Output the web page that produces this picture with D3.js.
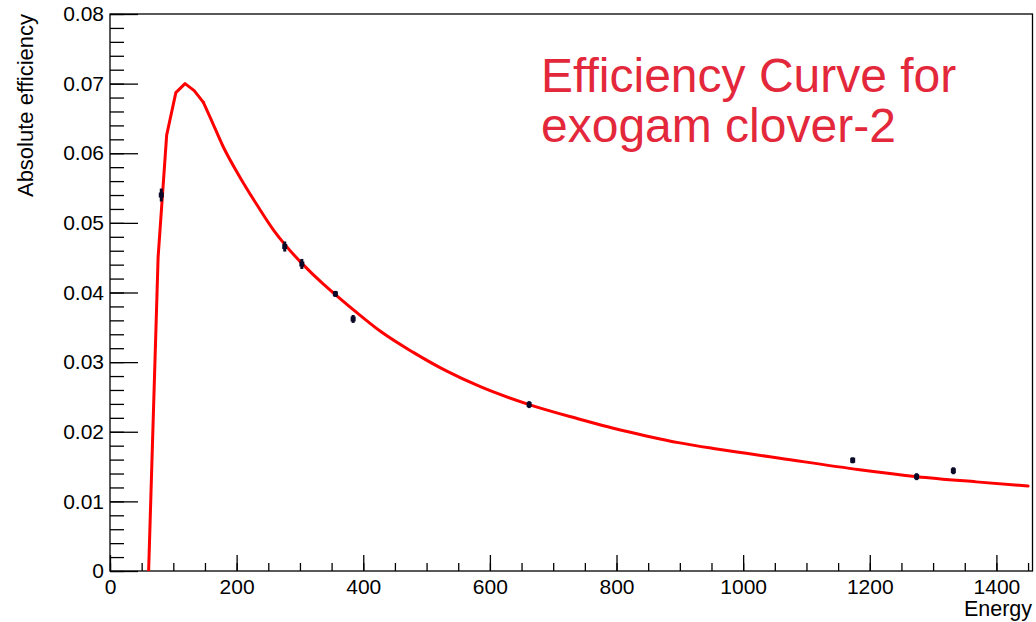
<!DOCTYPE html>
<html>
<head>
<meta charset="utf-8">
<script src="https://cdn.jsdelivr.net/npm/d3@7"></script>
<style>
  body { margin: 0; background: #fff; }
  text { font-family: "Liberation Sans", Arial, sans-serif; }
</style>
</head>
<body>
<div id="chart"></div>
<script>
// measured points (keV, absolute efficiency, error)
const energies = [81, 276, 303, 356, 384, 662, 1173, 1274, 1332]
const efficiencies = [0.0540, 0.0466, 0.0441, 0.0398, 0.0362, 0.0239, 0.0159, 0.01355, 0.0144]
const errors = [0.00093, 0.00072, 0.00072, 0.00043, 0.00057, 0.0005, 0.00043, 0.0005, 0.0005]

// fitted curve
const fitEnergy = [61, 76, 89.5, 104, 118.5, 133, 147.5, 158, 179, 205, 232, 258, 277, 305, 337, 356, 390, 426, 479, 532, 584, 662, 742, 795, 847, 900, 953, 1005, 1058, 1184, 1275, 1368, 1450]
const fitEff = [0, 0.0451, 0.0626, 0.0687, 0.0700, 0.0690, 0.0673, 0.0652, 0.0609, 0.0566, 0.0526, 0.0490, 0.0468, 0.0440, 0.0412, 0.0397, 0.0371, 0.0345, 0.0314, 0.0287, 0.0265, 0.0239, 0.0218, 0.0205, 0.0194, 0.0184, 0.0176, 0.0169, 0.0162, 0.01455, 0.01355, 0.0128, 0.0122]
// the peak is drawn with straight segments, the tail smoothed
const peakEnd = 6

const xTicks = [0, 200, 400, 600, 800, 1000, 1200, 1400]
const xTickLabels = ['0', '200', '400', '600', '800', '1000', '1200', '1400']
const yTicks = [0, 0.01, 0.02, 0.03, 0.04, 0.05, 0.06, 0.07, 0.08]
const yTickLabels = ['0', '0.01', '0.02', '0.03', '0.04', '0.05', '0.06', '0.07', '0.08']

const width = 1036
const height = 622
const frameLeft = 110, frameRight = 1032.5, frameTop = 14, frameBottom = 571

const svg = d3.select('#chart')
  .append('svg')
  .attr('width', width)
  .attr('height', height)

svg.append('rect').attr('width', width).attr('height', height).attr('fill', '#fff')

const xScale = d3.scaleLinear().domain([0, 1457]).range([frameLeft, frameRight])
const yScale = d3.scaleLinear().domain([0, 0.08]).range([frameBottom, frameTop])

svg.append('defs').append('clipPath').attr('id', 'frame')
  .append('rect')
  .attr('x', frameLeft).attr('y', frameTop)
  .attr('width', frameRight - frameLeft).attr('height', frameBottom - frameTop)

//Minor ticks
svg.append('g')
   .attr('transform', `translate(0, ${frameBottom})`)
   .call(d3.axisBottom(xScale).tickValues(d3.range(0, 1451, 50)).tickSize(-8).tickFormat(''))
svg.append('g')
   .attr('transform', `translate(${frameLeft}, 0)`)
   .call(d3.axisLeft(yScale).tickValues(d3.range(0, 0.0801, 0.002)).tickSize(-14).tickFormat(''))

//Major ticks with labels
svg.append('g')
   .attr('class', 'x-axis')
   .attr('transform', `translate(0, ${frameBottom})`)
   .call(d3.axisBottom(xScale).tickValues(xTicks).tickSize(-16).tickPadding(8)
     .tickFormat((d, i) => xTickLabels[i]))
svg.append('g')
   .attr('class', 'y-axis')
   .attr('transform', `translate(${frameLeft}, 0)`)
   .call(d3.axisLeft(yScale).tickValues(yTicks).tickSize(-28).tickPadding(6)
     .tickFormat((d, i) => yTickLabels[i]))

svg.selectAll('.domain').remove()
svg.selectAll('.tick line').attr('stroke', '#000').attr('stroke-width', 1.3)
svg.selectAll('.tick text').attr('fill', '#000').style('font-size', '21px')

//Frame
svg.append('rect')
   .attr('x', frameLeft).attr('y', frameTop)
   .attr('width', frameRight - frameLeft).attr('height', frameBottom - frameTop)
   .attr('fill', 'none').attr('stroke', '#000').attr('stroke-width', 1.3)

//Fit curve
const fitPoints = fitEnergy.map((e, i) => [e, fitEff[i]])
const peakLine = d3.line()
  .x(d => xScale(d[0]))
  .y(d => yScale(d[1]))
const tailLine = d3.line()
  .curve(d3.curveMonotoneX)
  .x(d => xScale(d[0]))
  .y(d => yScale(d[1]))

const fit = svg.append('g')
   .attr('clip-path', 'url(#frame)')
   .attr('fill', 'none')
   .attr('stroke', '#ff0000')
   .attr('stroke-width', 3)
   .attr('stroke-linejoin', 'round')
   .attr('stroke-linecap', 'round')
fit.append('path').attr('d', peakLine(fitPoints.slice(0, peakEnd + 1)))
fit.append('path').attr('d', tailLine(fitPoints.slice(peakEnd)))

//Data points with error bars
const points = svg.append('g').selectAll('g')
  .data(energies)
  .enter()
  .append('g')

points.append('line')
  .attr('x1', d => xScale(d)).attr('x2', d => xScale(d))
  .attr('y1', (d, i) => yScale(efficiencies[i] + errors[i]))
  .attr('y2', (d, i) => yScale(efficiencies[i] - errors[i]))
  .attr('stroke', '#0a0a28')
  .attr('stroke-width', 3)

points.append('rect')
  .attr('x', d => xScale(d) - 2.5)
  .attr('y', (d, i) => yScale(efficiencies[i]) - 2.5)
  .attr('width', 5)
  .attr('height', 5)
  .attr('fill', '#0a0a28')

//Titles
svg.append('text')
   .attr('transform', 'rotate(-90)')
   .attr('x', -frameTop)
   .attr('y', 33)
   .attr('text-anchor', 'end')
   .style('font-size', '22px')
   .text('Absolute efficiency')

svg.append('text')
   .attr('x', 1032)
   .attr('y', 616)
   .attr('text-anchor', 'end')
   .style('font-size', '21.5px')
   .text('Energy')

const title = svg.append('text')
   .attr('x', 541)
   .attr('y', 92)
   .attr('fill', '#e3283c')
   .style('font-size', '48px')
title.append('tspan').attr('x', 541).text('Efficiency Curve for')
title.append('tspan').attr('x', 541).attr('dy', 50).text('exogam clover-2')
</script>
</body>
</html>
